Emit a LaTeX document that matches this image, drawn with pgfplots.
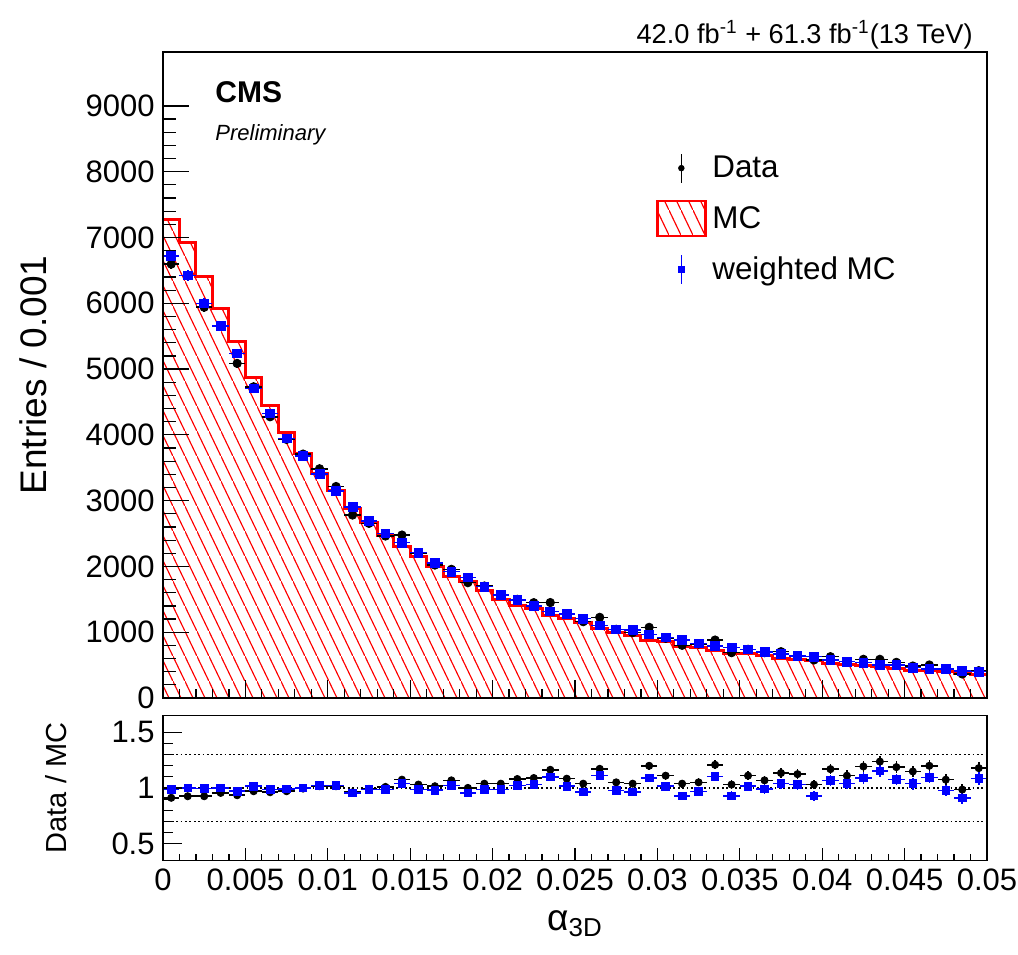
\documentclass[border=0pt]{standalone}
\usepackage{pgfplots}
\pgfplotsset{compat=1.18}
\usepackage{pgfplotstable}
\usepackage{fontspec}
\setmainfont{Liberation Sans}
\usetikzlibrary{patterns}

\pgfdeclarepatternformonly{roothatch}{\pgfpointorigin}{\pgfpoint{6.2pt}{12.4pt}}{\pgfpoint{6.2pt}{12.4pt}}{%
  \pgfsetlinewidth{0.6pt}%
  \pgfpathmoveto{\pgfpoint{-0.62pt}{13.64pt}}%
  \pgfpathlineto{\pgfpoint{6.82pt}{-1.24pt}}%
  \pgfusepath{stroke}}

\pgfplotstableread{
xl mc
0.000 7275
0.001 6920
0.002 6413
0.003 5917
0.004 5421
0.005 4874
0.006 4443
0.007 4038
0.008 3719
0.009 3415
0.010 3160
0.011 2882
0.012 2665
0.013 2477
0.014 2300
0.015 2148
0.016 2006
0.017 1854
0.018 1768
0.019 1631
0.020 1500
0.021 1413
0.022 1363
0.023 1261
0.024 1201
0.025 1150
0.026 1059
0.027 993
0.028 957
0.029 881
0.030 856
0.031 790
0.032 770
0.033 729
0.034 679
0.035 669
0.036 653
0.037 603
0.038 588
0.039 567
0.040 532
0.041 505
0.042 490
0.043 476
0.044 454
0.045 424
0.046 417
0.047 405
0.048 378
0.049 358
0.050 358
}\mctable

\pgfplotstableread{
x xe data derr wmc werr rd rdE rw rwE
0.0005 0.0005 6596 81 6720 82 0.911 0.011 0.985 0.012
0.0015 0.0005 6420 80 6424 80 0.925 0.012 1.000 0.013
0.0025 0.0005 5940 77 5998 77 0.925 0.012 0.994 0.013
0.0035 0.0005 5650 75 5653 75 0.955 0.013 1.000 0.014
0.0045 0.0005 5086 71 5238 72 0.934 0.013 0.970 0.014
0.0055 0.0005 4731 69 4707 69 0.970 0.014 1.015 0.015
0.0065 0.0005 4275 65 4326 66 0.961 0.015 0.985 0.016
0.0075 0.0005 3931 63 3947 63 0.970 0.015 0.991 0.016
0.0085 0.0005 3708 61 3678 61 0.994 0.016 1.000 0.017
0.0095 0.0005 3485 59 3404 58 1.015 0.017 1.021 0.018
0.0105 0.0005 3215 57 3151 56 1.015 0.018 1.021 0.019
0.0115 0.0005 2781 53 2907 54 0.961 0.018 0.955 0.019
0.0125 0.0005 2655 52 2695 52 0.991 0.019 0.985 0.020
0.0135 0.0005 2462 50 2503 50 1.009 0.020 0.985 0.021
0.0145 0.0005 2477 50 2361 49 1.074 0.022 1.038 0.023
0.0155 0.0005 2199 47 2209 47 1.030 0.022 0.985 0.023
0.0165 0.0005 2021 45 2056 45 1.015 0.023 0.979 0.024
0.0175 0.0005 1956 44 1920 44 1.068 0.024 1.021 0.025
0.0185 0.0005 1753 42 1834 43 1.000 0.024 0.955 0.025
0.0195 0.0005 1702 41 1692 41 1.038 0.025 0.985 0.026
0.0205 0.0005 1565 40 1565 40 1.038 0.026 0.985 0.027
0.0215 0.0005 1500 39 1489 39 1.080 0.028 1.021 0.029
0.0225 0.0005 1449 38 1398 37 1.089 0.029 1.030 0.030
0.0235 0.0005 1451 38 1317 36 1.163 0.031 1.098 0.032
0.0245 0.0005 1277 36 1277 36 1.083 0.030 1.015 0.031
0.0255 0.0005 1160 34 1206 35 1.038 0.030 0.964 0.031
0.0265 0.0005 1226 35 1105 33 1.172 0.033 1.110 0.034
0.0275 0.0005 1044 32 1044 32 1.050 0.033 0.976 0.034
0.0285 0.0005 993 32 1033 32 1.038 0.033 0.964 0.034
0.0295 0.0005 1074 33 968 31 1.199 0.037 1.089 0.038
0.0305 0.0005 907 30 922 30 1.110 0.037 1.015 0.038
0.0315 0.0005 801 28 881 30 1.038 0.037 0.929 0.038
0.0325 0.0005 821 29 831 29 1.050 0.037 0.967 0.038
0.0335 0.0005 881 30 790 28 1.208 0.041 1.104 0.042
0.0345 0.0005 689 26 770 28 1.030 0.039 0.929 0.040
0.0355 0.0005 740 27 740 27 1.110 0.041 1.015 0.042
0.0365 0.0005 689 26 699 26 1.068 0.041 0.991 0.042
0.0375 0.0005 704 27 669 26 1.134 0.043 1.038 0.044
0.0385 0.0005 640 25 638 25 1.124 0.044 1.030 0.045
0.0395 0.0005 578 24 628 25 1.030 0.043 0.929 0.044
0.0405 0.0005 628 25 578 24 1.169 0.047 1.065 0.048
0.0415 0.0005 552 23 552 23 1.110 0.047 1.038 0.048
0.0425 0.0005 588 24 537 23 1.193 0.049 1.089 0.050
0.0435 0.0005 588 24 502 22 1.237 0.051 1.154 0.052
0.0445 0.0005 542 23 502 22 1.187 0.051 1.074 0.052
0.0455 0.0005 486 22 461 21 1.148 0.052 1.038 0.053
0.0465 0.0005 502 22 441 21 1.199 0.054 1.095 0.055
0.0475 0.0005 441 21 441 21 1.074 0.051 0.976 0.052
0.0485 0.0005 365 19 415 20 0.985 0.052 0.911 0.053
0.0495 0.0005 415 20 400 20 1.178 0.058 1.083 0.059
}\datatable

\pgfplotsset{
  rootaxis/.style={
    scale only axis, width=412pt,
    xmin=0, xmax=0.05,
    axis line style={line width=0.6pt},
    tick align=inside, xtick pos=left, ytick pos=left,
    tick style={black, line width=0.6pt},
    /pgf/number format/assume math mode=true,
    /pgf/number format/1000 sep={},
    scaled x ticks=false, scaled y ticks=false,
    tick label style={font=\fontsize{15.5}{18}\selectfont},
    xtick={0,0.005,0.01,0.015,0.02,0.025,0.03,0.035,0.04,0.045,0.05},
    minor x tick num=4,
    xticklabel style={/pgf/number format/fixed, /pgf/number format/precision=3},
    yticklabel style={inner sep=0pt, xshift=-4pt},
    axis on top,
  },
  errstyle/.style={only marks,
    /pgfplots/error bars/x dir=both, /pgfplots/error bars/x explicit,
    /pgfplots/error bars/y dir=both, /pgfplots/error bars/y explicit,
    /pgfplots/error bars/error mark=none},
}

\begin{document}
\begin{tikzpicture}
\path[use as bounding box] (-81.5pt,-128pt) rectangle (427.5pt,349pt);

% ---------------- top panel ----------------
\begin{axis}[rootaxis,
  at={(0pt,0pt)}, anchor=south west,
  height=323pt,
  ymin=0, ymax=9820,
  ytick={0,1000,2000,3000,4000,5000,6000,7000,8000,9000},
  minor y tick num=4,
  xticklabels={},
  major tick length=13pt, minor tick length=6.5pt,
  major x tick style={/pgfplots/major tick length=9pt},
  minor x tick style={/pgfplots/minor tick length=4.5pt},
  every axis y label/.style={at={(axis description cs:-0.1408,0.5)}, rotate=90, anchor=base},
  ylabel={Entries / 0.001},
  ylabel style={font=\fontsize{18.5}{22}\selectfont},
  legend style={at={(0.598,0.860)}, anchor=north west, draw=none, fill=none,
    font=\fontsize{15.7}{18}\selectfont, row sep=0pt, inner sep=0pt},
  legend cell align=left,
]
\addplot[forget plot, draw=none, pattern=roothatch, pattern color=red, const plot mark left]
  table[x=xl, y=mc] {\mctable} \closedcycle;
\addplot[forget plot, red, line width=1.5pt, const plot mark left]
  table[x=xl, y=mc] {\mctable};
\addplot[forget plot, errstyle, mark=*, mark size=2.1pt, black,
  error bars/error bar style={line width=0.8pt, black}]
  table[x=x, y=data, x error=xe, y error=derr] {\datatable};
\addplot[forget plot, errstyle, mark=square*, mark size=2.2pt, blue,
  error bars/error bar style={line width=0.8pt, blue}]
  table[x=x, y=wmc, x error=xe, y error=werr] {\datatable};

\addlegendimage{legend image code/.code={
  \path[draw=none, fill=none] (0pt,-12.65pt) rectangle (25.5pt,12.65pt);
  \draw[black, line width=0.8pt] (12pt,-7.25pt) -- (12pt,7.25pt);
  \fill[black] (12pt,0pt) circle (1.4pt);}}
\addlegendentry{Data}
\addlegendimage{legend image code/.code={
  \path[draw=none, fill=none] (0pt,-12.65pt) rectangle (25.5pt,12.65pt);
  \draw[red, line width=1.2pt, pattern=roothatch, pattern color=red] (0pt,-8.75pt) rectangle (24pt,8.75pt);}}
\addlegendentry{MC}
\addlegendimage{legend image code/.code={
  \path[draw=none, fill=none] (0pt,-12.65pt) rectangle (25.5pt,12.65pt);
  \draw[blue, line width=0.8pt] (12pt,-7.25pt) -- (12pt,7.25pt);
  \fill[blue] (10.5pt,-1.5pt) rectangle (13.5pt,1.5pt);}}
\addlegendentry{weighted MC}
\end{axis}

% ---------------- ratio panel ----------------
\begin{axis}[rootaxis,
  at={(0pt,-8.85pt)}, anchor=north west,
  height=72.2pt,
  ymin=0.35, ymax=1.65,
  ytick={0.5,1,1.5},
  minor y tick num=4,
  major tick length=9.5pt, minor tick length=5pt,
  major x tick style={/pgfplots/major tick length=6pt},
  minor x tick style={/pgfplots/minor tick length=3pt},
  xticklabel style={inner sep=0pt, yshift=-4pt},
  every axis y label/.style={at={(axis description cs:-0.117,0.5)}, rotate=90, anchor=base},
  ylabel={Data / MC},
  ylabel style={font=\fontsize{14.5}{17}\selectfont},
  every axis x label/.style={at={(axis description cs:0.5,0)}, anchor=base, yshift=-35pt},
  xlabel={α\textsubscript{3D}},
  xlabel style={font=\fontsize{18.5}{22}\selectfont},
]
\addplot[black, line width=0.6pt, dash pattern=on 0.9pt off 1.3pt] coordinates {(0,1.3) (0.05,1.3)};
\addplot[black, line width=0.6pt, dash pattern=on 0.9pt off 1.3pt] coordinates {(0,1) (0.05,1)};
\addplot[black, line width=0.6pt, dash pattern=on 0.9pt off 1.3pt] coordinates {(0,0.7) (0.05,0.7)};
\addplot[errstyle, mark=*, mark size=1.8pt, black,
  error bars/error bar style={line width=0.8pt, black}]
  table[x=x, y=rd, x error=xe, y error=rdE] {\datatable};
\addplot[errstyle, mark=square*, mark size=1.9pt, blue,
  error bars/error bar style={line width=0.8pt, blue}]
  table[x=x, y=rw, x error=xe, y error=rwE] {\datatable};
\end{axis}

% ---------------- texts ----------------
\node[anchor=base west, inner sep=0pt, font=\fontsize{15}{18}\selectfont\bfseries] at (26pt,297.6pt) {CMS};
\node[anchor=base west, inner sep=0pt, font=\fontsize{11}{13}\selectfont\itshape] at (26pt,278.5pt) {Preliminary};
\node[anchor=base east, inner sep=0pt, font=\fontsize{13.6}{15}\selectfont] at (405pt,327.25pt)
  {42.0 fb\textsuperscript{-1} + 61.3 fb\textsuperscript{-1}(13 TeV)};
\end{tikzpicture}
\end{document}
